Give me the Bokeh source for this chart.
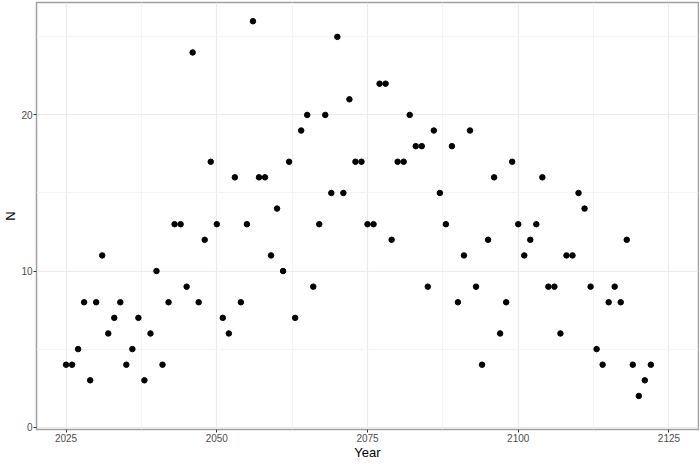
from bokeh.plotting import figure
from bokeh.models import Range1d, FixedTicker, ColumnDataSource
from bokeh.embed import file_html
from bokeh.resources import INLINE

years = list(range(2025, 2123))
counts = [4, 4, 5, 8, 3, 8, 11, 6, 7, 8,
          4, 5, 7, 3, 6, 10, 4, 8, 13, 13,
          9, 24, 8, 12, 17, 13, 7, 6, 16, 8,
          13, 26, 16, 16, 11, 14, 10, 17, 7, 19,
          20, 9, 13, 20, 15, 25, 15, 21, 17, 17,
          13, 13, 22, 22, 12, 17, 17, 20, 18, 18,
          9, 19, 15, 13, 18, 8, 11, 19, 9, 4,
          12, 16, 6, 8, 17, 13, 11, 12, 13, 16,
          9, 9, 6, 11, 11, 15, 14, 9, 5, 4,
          8, 9, 8, 12, 4, 2, 3, 4]
x_ticks = [2025, 2050, 2075, 2100, 2125]
x_minor = [2037.5, 2062.5, 2087.5, 2112.5]
y_ticks = [0, 10, 20]
y_minor = [5, 15, 25]

src = ColumnDataSource(dict(year=years, n=counts))

p = figure(width=699, height=462, output_backend="svg", toolbar_location=None,
           x_range=Range1d(2020.1, 2129.9), y_range=Range1d(-0.15, 27.2),
           min_border_left=5, min_border_right=1, min_border_top=2, min_border_bottom=5)

p.scatter("year", "n", source=src, size=5.5, color="black", marker="circle")

p.xaxis.ticker = FixedTicker(ticks=x_ticks, minor_ticks=x_minor)
p.yaxis.ticker = FixedTicker(ticks=y_ticks, minor_ticks=y_minor)

p.xaxis.axis_label = "Year"
p.yaxis.axis_label = "N"
for ax in (p.xaxis, p.yaxis):
    ax.axis_line_color = None
    ax.major_tick_line_color = "#333333"
    ax.major_tick_out = 3
    ax.major_tick_in = 0
    ax.minor_tick_line_color = None
    ax.major_label_text_font = "Liberation Sans"
    ax.major_label_text_font_size = "10px"
    ax.major_label_text_color = "#4D4D4D"
    ax.major_label_standoff = 0
    ax.axis_label_text_font = "Liberation Sans"
    ax.axis_label_text_font_size = "13px"
    ax.axis_label_text_font_style = "normal"
    ax.axis_label_text_color = "black"
    ax.axis_label_standoff = 0

p.xgrid.grid_line_color = "#EBEBEB"
p.ygrid.grid_line_color = "#EBEBEB"
p.xgrid.minor_grid_line_color = "#F4F4F4"
p.ygrid.minor_grid_line_color = "#F4F4F4"
p.xgrid.grid_line_width = 1.2
p.ygrid.grid_line_width = 1.2

p.outline_line_color = "#A0A0A0"
p.outline_line_width = 1.5
p.background_fill_color = "white"
p.border_fill_color = "white"

open("out.html", "w").write(file_html(p, INLINE))
